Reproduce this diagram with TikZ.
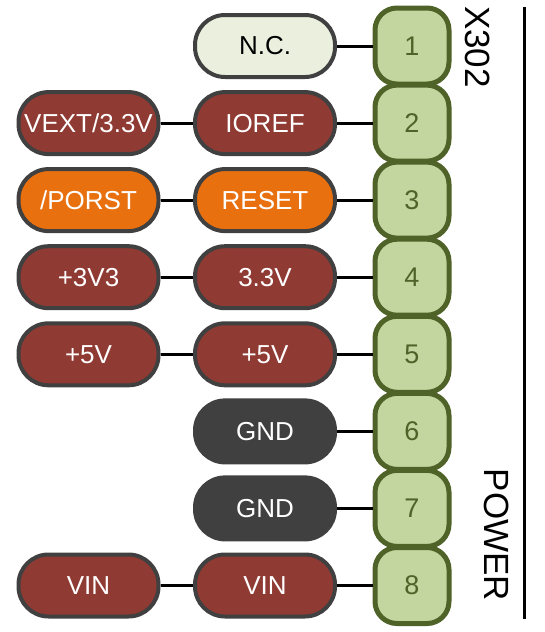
\documentclass[tikz,border=0pt]{standalone}
\usepackage{fontspec}
\setmainfont{Liberation Sans}
\usetikzlibrary{positioning}

\definecolor{pinfill}{HTML}{C4D6A0}
\definecolor{pinedge}{HTML}{4F6228}
\definecolor{pwrred}{HTML}{8F3A33}
\definecolor{rstorange}{HTML}{E8700F}
\definecolor{gndgray}{HTML}{404040}
\definecolor{ncfill}{HTML}{EBF0DE}
\definecolor{pilledge}{HTML}{404040}

\begin{document}
\begin{tikzpicture}[x=1pt, y=1pt,
    pin/.style={draw=pinedge, fill=pinfill, line width=5pt, rounded corners=22pt,
      minimum width=74pt, minimum height=76pt, text=pinedge,
      font=\fontsize{27}{32}\selectfont},
    pill/.style={draw=pilledge, line width=4pt, rounded corners=30pt,
      minimum width=140pt, minimum height=62pt, text=white,
      font=\fontsize{26}{31}\selectfont},
    wire/.style={line width=3pt, black},
    side/.style={font=\fontsize{35}{40}\selectfont, rotate=-90}
  ]
    \useasboundingbox (0,0) rectangle (544,-632);

    % connector pins
    \node[pin] (p1) at (412,-46) {1};
    \node[pin] (p2) at (412,-123.1) {2};
    \node[pin] (p3) at (412,-200.1) {3};
    \node[pin] (p4) at (412,-277.2) {4};
    \node[pin] (p5) at (412,-354.3) {5};
    \node[pin] (p6) at (412,-431.4) {6};
    \node[pin] (p7) at (412,-508.4) {7};
    \node[pin] (p8) at (412,-585.5) {8};

    % pin names
    \node[pill, fill=ncfill, text=black] (n1) at (265,-46) {N.C.};
    \node[pill, fill=pwrred] (n2) at (265,-123.1) {IOREF};
    \node[pill, fill=rstorange] (n3) at (265,-200.1) {RESET};
    \node[pill, fill=pwrred] (n4) at (265,-277.2) {3.3V};
    \node[pill, fill=pwrred] (n5) at (265,-354.3) {+5V};
    \node[pill, fill=gndgray] (n6) at (265,-431.4) {GND};
    \node[pill, fill=gndgray] (n7) at (265,-508.4) {GND};
    \node[pill, fill=pwrred] (n8) at (265,-585.5) {VIN};

    % signal names
    \node[pill, fill=pwrred] (s2) at (88.5,-123.1) {VEXT/3.3V};
    \node[pill, fill=rstorange] (s3) at (88.5,-200.1) {/PORST};
    \node[pill, fill=pwrred] (s4) at (88.5,-277.2) {+3V3};
    \node[pill, fill=pwrred] (s5) at (88.5,-354.3) {+5V};
    \node[pill, fill=pwrred] (s8) at (88.5,-585.5) {VIN};

    \foreach \i in {1,...,8}
      \draw[wire] (n\i) -- (p\i);
    \foreach \i in {2,3,4,5,8}
      \draw[wire] (s\i) -- (n\i);

    % header labels
    \node[side] (hdr) at (478,-47) {X302};
    \node[side] (grp) at (497,-535) {POWER};
    \coordinate (bartop) at (524,-7);
    \coordinate (barbot) at (524,-619);
    \draw[line width=3pt] (bartop) -- (barbot);
  \end{tikzpicture}
\end{document}
